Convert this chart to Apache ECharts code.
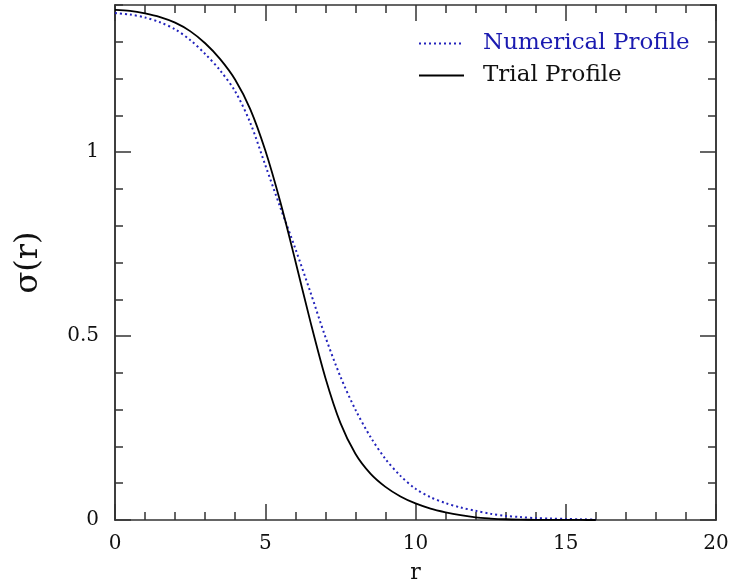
<!DOCTYPE html>
<html><head><meta charset="utf-8">
<script src="https://cdn.jsdelivr.net/npm/echarts@6/dist/echarts.min.js"></script>
<style>html,body{margin:0;padding:0;background:#fff}#c{width:732px;height:582px}</style>
</head><body><div id="c"></div>
<script>
var rValues = [0,0.5,1,1.5,2,2.5,3,3.5,4,4.5,5,5.5,6,6.5,7,7.5,8,8.5,9,9.5,10,10.5,11,11.5,12,12.5,13,13.5,14,14.5,15,15.5,16];
var trialProfile = [1.387,1.384,1.377,1.367,1.352,1.329,1.296,1.253,1.197,1.117,1.005,0.865,0.705,0.540,0.387,0.264,0.180,0.126,0.090,0.064,0.045,0.031,0.021,0.013,0.007,0.004,0.002,0.001,0.0005,0.0003,0.0002,0.0001,0];
var numericalProfile = [1.378,1.374,1.366,1.353,1.334,1.305,1.267,1.222,1.165,1.080,0.965,0.850,0.738,0.620,0.498,0.390,0.300,0.226,0.166,0.120,0.085,0.062,0.046,0.034,0.025,0.017,0.011,0.008,0.005,0.004,0.003,0.002,0.001];
var xTicks = [0,5,10,15,20];
var yTicks = [0,0.5,1];

function pairs(ys){ return rValues.map(function(r,i){return [r, ys[i]];}); }
var F = 'DejaVu Serif';
var lineC = '#333';
function xAx(pos, labels){
  return {type:'value', min:0, max:20, interval:5, position:pos, gridIndex:0,
    axisLine:{show:true, onZero:false, lineStyle:{color:lineC, width:1.5}},
    axisTick:{show:true, inside:true, length:16, lineStyle:{color:lineC, width:1.5}},
    minorTick:{show:true, splitNumber:5, length:8, lineStyle:{color:lineC, width:1.5}},
    splitLine:{show:false},
    axisLabel:{show:labels, fontFamily:F, fontSize:20, color:'#111', margin:14,
      formatter:function(v){ return xTicks.indexOf(v)>=0 ? String(v) : ''; }},
    name: labels ? 'r' : '', nameLocation:'middle', nameGap:42,
    nameTextStyle:{fontFamily:F, fontSize:22, color:'#111'}
  };
}
function yAx(pos, major, labels){
  return {type:'value', min:0, max:1.4, interval: major?0.5:0.1, position:pos, gridIndex:0,
    axisLine:{show:true, onZero:false, lineStyle:{color:lineC, width:1.5}},
    axisTick:{show:true, inside:true, length: major?16:8, lineStyle:{color:lineC, width:1.5}},
    splitLine:{show:false},
    axisLabel:{show:labels, showMaxLabel:false, fontFamily:F, fontSize:20, color:'#111', margin:16,
      formatter:function(v){ return yTicks.indexOf(v)>=0 ? String(v) : ''; }},
    name: labels ? 'σ(r)' : '', nameLocation:'middle', nameGap:70, nameRotate:90,
    nameTextStyle:{fontFamily:F, fontSize:32, color:'#111'}
  };
}
var chart = echarts.init(document.getElementById('c'), null, {renderer:'canvas'});
chart.setOption({
  animation:false,
  backgroundColor:'#fff',
  grid:{left:115, right:16, top:5, bottom:62, containLabel:false, outerBoundsMode:'none'},
  legend:{orient:'vertical', left:413, top:27, itemWidth:45, itemHeight:14, itemGap:9,
    selectedMode:false,
    itemStyle:{color:'transparent', borderColor:'transparent', borderWidth:0},
    textStyle:{fontFamily:F, fontSize:23, padding:[0,0,0,14]},
    data:[{name:'Numerical Profile', textStyle:{color:'#1a1ab0'}},
          {name:'Trial Profile', textStyle:{color:'#111'}}]},
  xAxis:[xAx('bottom', true), xAx('top', false)],
  yAxis:[yAx('left', true, true), yAx('left', false, false), yAx('right', true, false), yAx('right', false, false)],
  series:[
    {name:'Numerical Profile', type:'line', xAxisIndex:0, yAxisIndex:0, data:pairs(numericalProfile),
      smooth:0.3, showSymbol:false, symbol:'none',
      lineStyle:{color:'#2222bb', width:2, type:[2,3]}, itemStyle:{color:'#2222bb'}},
    {name:'Trial Profile', type:'line', xAxisIndex:0, yAxisIndex:0, data:pairs(trialProfile),
      smooth:0.3, showSymbol:false, symbol:'none',
      lineStyle:{color:'#000', width:1.8, type:'solid'}, itemStyle:{color:'#000'}}
  ]
});
</script></body></html>
